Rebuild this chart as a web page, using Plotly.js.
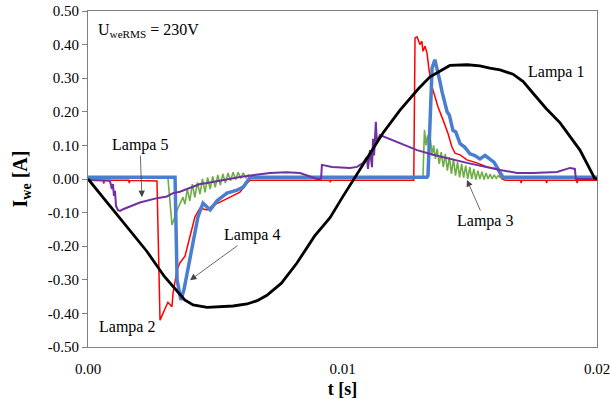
<!DOCTYPE html>
<html>
<head>
<meta charset="utf-8">
<script src="https://cdn.plot.ly/plotly-3.0.1.min.js"></script>
<style>html,body{margin:0;padding:0;background:#fff;}#chart{width:610px;height:399px;}</style>
</head>
<body>
<div id="chart"></div>
<script>
// Lampa 1 (black)
const t1 = [0, 0.0008, 0.0016, 0.00231, 0.0030, 0.00349, 0.0038, 0.00413, 0.00468, 0.0057, 0.00625, 0.00665, 0.00703, 0.0076, 0.00821, 0.0089, 0.00951, 0.0100, 0.01045, 0.0110, 0.01159, 0.01226, 0.01265, 0.0130, 0.01344, 0.01391, 0.01422, 0.0149, 0.0154, 0.01579, 0.01619, 0.0167, 0.0171, 0.01748, 0.0180, 0.01855, 0.01933, 0.0199, 0.0200];
const i1 = [0, -0.075, -0.15, -0.215, -0.29, -0.335, -0.36, -0.375, -0.382, -0.378, -0.372, -0.362, -0.346, -0.31, -0.25, -0.17, -0.115, -0.054, 0.0, 0.065, 0.137, 0.205, 0.24, 0.27, 0.304, 0.325, 0.338, 0.34, 0.337, 0.33, 0.325, 0.312, 0.29, 0.256, 0.21, 0.167, 0.086, 0.003, 0];

// Lampa 2 (red)
const t2 = [0, 0.0006, 0.00062, 0.00064, 0.0016, 0.00162, 0.00164, 0.0027, 0.00271, 0.00283, 0.00295, 0.00314, 0.0033, 0.00334, 0.0035, 0.00361, 0.00381, 0.00401, 0.0042, 0.0044, 0.00468, 0.00491, 0.00519, 0.00558, 0.00597, 0.00625, 0.00637, 0.0095, 0.00952, 0.00954, 0.0128, 0.01285, 0.01293, 0.01304, 0.01312, 0.01316, 0.01324, 0.01332, 0.0134, 0.01352, 0.01363, 0.01375, 0.01395, 0.01414, 0.0143, 0.01442, 0.01462, 0.01489, 0.01528, 0.01568, 0.01607, 0.01627, 0.0164, 0.0170, 0.01702, 0.01704, 0.0180, 0.01802, 0.01804, 0.0192, 0.01922, 0.01924, 0.0200];
const i2 = [-0.004, -0.004, -0.014, -0.004, -0.004, -0.012, -0.004, -0.004, -0.006, -0.42, -0.40, -0.367, -0.38, -0.34, -0.27, -0.25, -0.23, -0.173, -0.113, -0.087, -0.092, -0.078, -0.069, -0.054, -0.039, -0.012, -0.004, -0.004, -0.01, -0.004, -0.004, 0.42, 0.423, 0.40, 0.41, 0.38, 0.395, 0.375, 0.325, 0.274, 0.244, 0.215, 0.176, 0.137, 0.095, 0.077, 0.072, 0.057, 0.048, 0.036, 0.03, 0.0, -0.004, -0.004, -0.012, -0.004, -0.004, -0.012, -0.004, -0.004, -0.012, -0.004, -0.004];

// Lampa 3 (green)
const t3 = [0, 0.00314, 0.0033, 0.0035, 0.00373, 0.00381, 0.0039, 0.0040, 0.0041, 0.0042, 0.0043, 0.0044, 0.0045, 0.0046, 0.0047, 0.0048, 0.0049, 0.0050, 0.0051, 0.0052, 0.0053, 0.0054, 0.0055, 0.0056, 0.0057, 0.0058, 0.0059, 0.0060, 0.0061, 0.0062, 0.0063, 0.0064,
  0.01316, 0.01322, 0.01328, 0.01334, 0.0134, 0.01346, 0.01352, 0.01358, 0.01365, 0.01372, 0.0138, 0.01388, 0.01396, 0.01404, 0.01412, 0.0142, 0.01428, 0.01436, 0.01444, 0.01452, 0.0146, 0.01468, 0.01476, 0.01484, 0.01492, 0.0150, 0.01508, 0.01516, 0.01524, 0.01532, 0.0154, 0.01548, 0.01556, 0.01564, 0.01572, 0.0158, 0.01588, 0.01596, 0.01604, 0.01612, 0.0162, 0.0200];
const i3 = [0.004, 0.004, -0.137, -0.093, -0.054, -0.075, -0.03, -0.065, -0.015, -0.055, -0.01, -0.045, 0.0, -0.04, 0.005, -0.03, 0.008, -0.025, 0.012, -0.018, 0.015, -0.012, 0.018, -0.005, 0.02, -0.002, 0.02, 0.002, 0.018, 0.004, 0.012, 0.004,
  0.004, 0.146, 0.10, 0.13, 0.085, 0.115, 0.07, 0.10, 0.06, 0.09, 0.045, 0.08, 0.035, 0.075, 0.025, 0.065, 0.015, 0.06, 0.01, 0.05, 0.005, 0.045, 0.004, 0.04, 0.0, 0.035, 0.0, 0.03, -0.002, 0.025, 0.0, 0.022, -0.002, 0.018, 0.0, 0.015, 0.0, 0.012, 0.002, 0.01, 0.004, 0.004];

// Lampa 4 (blue)
const t4 = [0, 0.00338, 0.00342, 0.0035, 0.00361, 0.00365, 0.00377, 0.00389, 0.00401, 0.00413, 0.00432, 0.00452, 0.0048, 0.00507, 0.00546, 0.00586, 0.0061, 0.00637, 0.01332, 0.01336, 0.01352, 0.01363, 0.01375, 0.01383, 0.01391, 0.0140, 0.01411, 0.0142, 0.01434, 0.01445, 0.01462, 0.0148, 0.01501, 0.0152, 0.0154, 0.0156, 0.01579, 0.01595, 0.01607, 0.01627, 0.01631, 0.0200];
const i4 = [0.005, 0.005, 0.005, -0.30, -0.355, -0.36, -0.33, -0.28, -0.23, -0.18, -0.113, -0.072, -0.092, -0.065, -0.042, -0.033, -0.024, 0.005, 0.005, 0.01, 0.33, 0.355, 0.32, 0.29, 0.26, 0.235, 0.20, 0.19, 0.145, 0.14, 0.105, 0.095, 0.075, 0.07, 0.06, 0.07, 0.06, 0.05, 0.035, 0.012, 0.005, 0.005];

// Lampa 5 (purple)
const t5 = [0, 0.00086, 0.00094, 0.00098, 0.00102, 0.00106, 0.0011, 0.00118, 0.00126, 0.00138, 0.00204, 0.00271, 0.0031, 0.00334, 0.00361, 0.0044, 0.00468, 0.0053, 0.00597, 0.00715, 0.0078, 0.00833, 0.00872, 0.0090, 0.00912, 0.00916, 0.00919, 0.00959, 0.01029, 0.01057, 0.01069, 0.01081, 0.01096, 0.0110, 0.01108, 0.01116, 0.0112, 0.01124, 0.01131, 0.01135, 0.01147, 0.01175, 0.01226, 0.01293, 0.01356, 0.01489, 0.01619, 0.01686, 0.01748, 0.01843, 0.01894, 0.01913, 0.01917, 0.0200];
const i5 = [-0.003, -0.005, -0.03, -0.015, -0.05, -0.035, -0.08, -0.093, -0.095, -0.09, -0.07, -0.057, -0.052, -0.042, -0.038, -0.015, -0.012, -0.003, 0.006, 0.018, 0.02, 0.018, 0.008, 0.0, 0.0, 0.002, 0.042, 0.036, 0.033, 0.036, 0.042, 0.048, 0.066, 0.03, 0.086, 0.035, 0.12, 0.07, 0.17, 0.11, 0.131, 0.122, 0.107, 0.086, 0.072, 0.048, 0.027, 0.018, 0.018, 0.021, 0.033, 0.03, 0.0, 0.0];

const yTicks = [-0.5, -0.4, -0.3, -0.2, -0.1, 0, 0.1, 0.2, 0.3, 0.4, 0.5];
const yTickText = ["-0.50", "-0.40", "-0.30", "-0.20", "-0.10", "0.00", "0.10", "0.20", "0.30", "0.40", "0.50"];
const xTicks = [0, 0.01, 0.02];
const xTickText = ["0.00", "0.01", "0.02"];

const serif = "Liberation Serif, Times New Roman, serif";

const traces = [
  {x: t2, y: i2, mode: "lines", line: {color: "#ff0000", width: 1.5}, name: "Lampa 2"},
  {x: t3, y: i3, mode: "lines", line: {color: "#6fad46", width: 1.6}, name: "Lampa 3"},
  {x: t4, y: i4, mode: "lines", line: {color: "#4a7fd0", width: 3.5}, name: "Lampa 4"},
  {x: t5, y: i5, mode: "lines", line: {color: "#7030a0", width: 2}, name: "Lampa 5"},
  {x: t1, y: i1, mode: "lines", line: {color: "#000000", width: 2.8}, name: "Lampa 1"}
];

const annFont = {family: serif, size: 16, color: "#000"};
const arrowStyle = {showarrow: true, arrowhead: 2, arrowsize: 1.6, arrowwidth: 0.8, arrowcolor: "#444", axref: "x", ayref: "y"};

const layout = {
  width: 610, height: 399,
  margin: {l: 88, r: 13, t: 11, b: 52},
  paper_bgcolor: "#fff", plot_bgcolor: "#fff",
  showlegend: false,
  font: {family: serif, size: 15, color: "#000"},
  xaxis: {
    range: [0, 0.02], tickvals: xTicks, ticktext: xTickText,
    showgrid: false, zeroline: false, showline: true, linecolor: "#808080", linewidth: 1, mirror: true,
    ticks: "", ticklabelstandoff: 8, ticklabeloverflow: "allow",
    tickfont: {family: serif, size: 15},
    title: {text: "<b>t [s]</b>", font: {family: serif, size: 18}, standoff: 8}
  },
  yaxis: {
    range: [-0.5, 0.5], tickvals: yTicks, ticktext: yTickText,
    showgrid: false, zeroline: false, showline: true, linecolor: "#808080", linewidth: 1, mirror: true,
    ticks: "outside", ticklen: 5, tickcolor: "#808080",
    tickfont: {family: serif, size: 15},
    title: {text: "<b>I<sub>we</sub> [A]</b>", font: {family: serif, size: 20}, standoff: 14}
  },
  annotations: [
    {x: 0.00031, y: 0.441, xref: "x", yref: "y", xanchor: "left", text: "U<sub>weRMS</sub> = 230V", showarrow: false, font: annFont},
    {x: 0.01839, y: 0.319, xref: "x", yref: "y", text: "Lampa 1", showarrow: false, font: annFont},
    {x: 0.00153, y: -0.441, xref: "x", yref: "y", text: "Lampa 2", showarrow: false, font: annFont},
    Object.assign({x: 0.01489, y: -0.003, ax: 0.0156, ay: -0.125, xref: "x", yref: "y", text: "Lampa 3", font: annFont}, arrowStyle),
    Object.assign({x: 0.00401, y: -0.301, ax: 0.00644, ay: -0.167, xref: "x", yref: "y", text: "Lampa 4", font: annFont}, arrowStyle),
    Object.assign({x: 0.00212, y: -0.054, ax: 0.00204, ay: 0.101, xref: "x", yref: "y", text: "Lampa 5", font: annFont}, arrowStyle)
  ]
};

Plotly.newPlot("chart", traces, layout, {displayModeBar: false, staticPlot: true});
</script>
</body>
</html>
